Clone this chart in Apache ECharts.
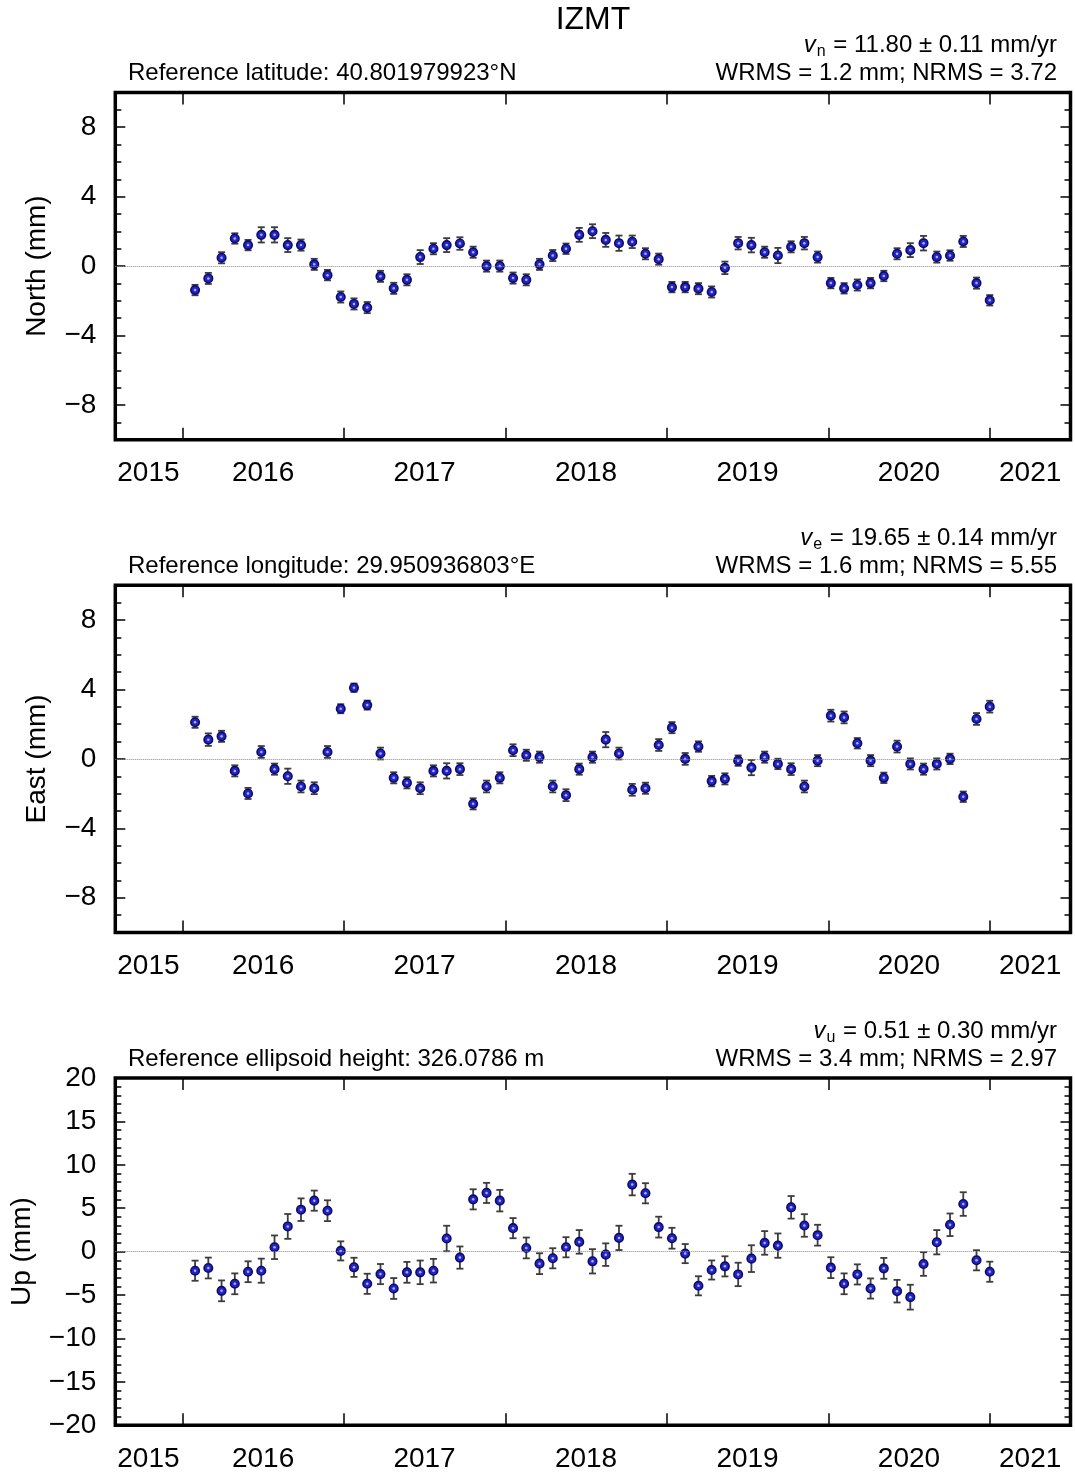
<!DOCTYPE html>
<html>
<head>
<meta charset="utf-8">
<title>IZMT</title>
<script src="https://cdn.jsdelivr.net/npm/echarts/dist/echarts.min.js"></script>
<style>
  html, body { margin: 0; padding: 0; background: #fff; }
  #chart { width: 1075px; height: 1477px; }
</style>
</head>
<body>
<div id="chart"></div>
<script>
// Station IZMT: monthly (30-day) position residuals, North / East / Up, in mm.

// Observation epochs, decimal years
const EPOCHS = [
  2016.079, 2016.161, 2016.243, 2016.325, 2016.407, 2016.489, 2016.571, 2016.653, 2016.735, 2016.817,
  2016.899, 2016.981, 2017.063, 2017.145, 2017.227, 2017.309, 2017.391, 2017.473, 2017.555, 2017.637,
  2017.719, 2017.801, 2017.884, 2017.966, 2018.048, 2018.130, 2018.212, 2018.294, 2018.376, 2018.458,
  2018.540, 2018.622, 2018.704, 2018.786, 2018.868, 2018.950, 2019.032, 2019.114, 2019.196, 2019.278,
  2019.360, 2019.442, 2019.524, 2019.606, 2019.688, 2019.770, 2019.852, 2019.934, 2020.016, 2020.098,
  2020.180, 2020.262, 2020.344, 2020.426, 2020.508, 2020.590, 2020.672, 2020.754, 2020.836, 2020.918,
  2021.000
];

// North residuals (mm) and 1-sigma
const NORTH = [
  -1.38, -0.71, 0.48, 1.59, 1.21, 1.80, 1.80, 1.21, 1.21, 0.10,
  -0.52, -1.78, -2.18, -2.39, -0.59, -1.28, -0.79, 0.52, 1.00, 1.21,
  1.30, 0.80, 0.00, 0.00, -0.69, -0.79, 0.10, 0.61, 1.00, 1.80,
  2.01, 1.51, 1.32, 1.40, 0.71, 0.40, -1.21, -1.21, -1.30, -1.49,
  -0.10, 1.32, 1.21, 0.80, 0.61, 1.11, 1.32, 0.52, -0.98, -1.28,
  -1.09, -0.98, -0.57, 0.71, 0.92, 1.32, 0.52, 0.61, 1.42, -0.98,
  -1.97
];
const NORTH_SIGMA = [
  0.30, 0.32, 0.32, 0.30, 0.30, 0.44, 0.44, 0.40, 0.32, 0.32,
  0.30, 0.32, 0.32, 0.32, 0.32, 0.32, 0.32, 0.40, 0.32, 0.40,
  0.36, 0.32, 0.32, 0.32, 0.32, 0.32, 0.32, 0.32, 0.30, 0.40,
  0.40, 0.40, 0.44, 0.36, 0.32, 0.32, 0.30, 0.30, 0.32, 0.32,
  0.36, 0.36, 0.42, 0.32, 0.44, 0.32, 0.36, 0.32, 0.30, 0.30,
  0.32, 0.30, 0.30, 0.32, 0.40, 0.42, 0.32, 0.30, 0.32, 0.32,
  0.30
];

// East residuals (mm) and 1-sigma
const EAST = [
  2.11, 1.11, 1.30, -0.69, -1.99, 0.40, -0.59, -1.00, -1.59, -1.69,
  0.40, 2.89, 4.10, 3.10, 0.31, -1.09, -1.38, -1.69, -0.69, -0.69,
  -0.59, -2.59, -1.59, -1.09, 0.50, 0.21, 0.10, -1.59, -2.09, -0.59,
  0.10, 1.11, 0.31, -1.78, -1.69, 0.80, 1.80, 0.00, 0.71, -1.28,
  -1.15, -0.10, -0.50, 0.10, -0.29, -0.59, -1.59, -0.10, 2.49, 2.39,
  0.90, -0.10, -1.09, 0.71, -0.29, -0.59, -0.29, 0.00, -2.18, 2.30,
  3.01
];
const EAST_SIGMA = [
  0.32, 0.36, 0.32, 0.32, 0.32, 0.34, 0.32, 0.44, 0.34, 0.34,
  0.34, 0.26, 0.24, 0.26, 0.34, 0.32, 0.32, 0.34, 0.32, 0.44,
  0.34, 0.32, 0.34, 0.32, 0.34, 0.32, 0.32, 0.34, 0.34, 0.32,
  0.32, 0.44, 0.34, 0.34, 0.32, 0.34, 0.32, 0.34, 0.30, 0.30,
  0.32, 0.30, 0.44, 0.32, 0.30, 0.34, 0.34, 0.32, 0.34, 0.34,
  0.30, 0.32, 0.30, 0.34, 0.32, 0.32, 0.32, 0.30, 0.30, 0.34,
  0.34
];

// Up residuals (mm) and 1-sigma
const UP = [
  -2.20, -1.89, -4.52, -3.71, -2.32, -2.20, 0.50, 2.90, 4.83, 5.87,
  4.71, 0.08, -1.81, -3.71, -2.59, -4.25, -2.39, -2.39, -2.20, 1.51,
  -0.69, 6.02, 6.76, 5.87, 2.70, 0.42, -1.39, -0.77, 0.50, 1.12,
  -1.12, -0.35, 1.58, 7.72, 6.72, 2.82, 1.54, -0.23, -3.94, -2.12,
  -1.70, -2.63, -0.81, 1.00, 0.69, 5.10, 3.01, 1.89, -1.85, -3.71,
  -2.63, -4.25, -1.93, -4.56, -5.25, -1.43, 1.08, 3.09, 5.48, -1.00,
  -2.32
];
const UP_SIGMA = [
  1.16, 1.20, 1.20, 1.20, 1.20, 1.39, 1.36, 1.43, 1.30, 1.16,
  1.20, 1.10, 1.10, 1.16, 1.16, 1.20, 1.20, 1.36, 1.36, 1.47,
  1.28, 1.16, 1.16, 1.24, 1.16, 1.20, 1.20, 1.16, 1.16, 1.36,
  1.40, 1.30, 1.40, 1.24, 1.16, 1.20, 1.20, 1.10, 1.10, 1.10,
  1.16, 1.35, 1.54, 1.36, 1.40, 1.30, 1.30, 1.20, 1.20, 1.20,
  1.16, 1.16, 1.20, 1.30, 1.43, 1.36, 1.40, 1.30, 1.36, 1.16,
  1.16
];

// Time axis: ticks at year boundaries, year names centred in each year span
const X_MIN = 2015.585;
const X_MAX = 2021.5;
const YEAR_TICKS = [2016, 2017, 2018, 2019, 2020, 2021];
const YEAR_LABEL_POS = [2015.79, 2016.5, 2017.5, 2018.5, 2019.5, 2020.5, 2021.25];

// Vertical axes
const NE_RANGE = [-10, 10];
const NE_LABELS = [-8, -4, 0, 4, 8];
const UP_RANGE = [-20, 20];
const UP_LABELS = [-20, -15, -10, -5, 0, 5, 10, 15, 20];

// Panel annotations
const TITLE = 'IZMT';
const PANEL_TEXT = [
  { comp: 'n', rate: ' = 11.80 \u00b1 0.11 mm/yr', ref: 'Reference latitude: 40.801979923\u00b0N',   fit: 'WRMS = 1.2 mm; NRMS = 3.72', name: 'North (mm)' },
  { comp: 'e', rate: ' = 19.65 \u00b1 0.14 mm/yr', ref: 'Reference longitude: 29.950936803\u00b0E',  fit: 'WRMS = 1.6 mm; NRMS = 5.55', name: 'East (mm)' },
  { comp: 'u', rate: ' = 0.51 \u00b1 0.30 mm/yr',  ref: 'Reference ellipsoid height: 326.0786 m',    fit: 'WRMS = 3.4 mm; NRMS = 2.97', name: 'Up (mm)' }
];

const FONT = '"Liberation Sans", Arial, Helvetica, sans-serif';
const GRID_LEFT = 115.3;
const GRID_RIGHT = 4.5;
const GRID_H = 347.2;
const GRID_TOPS = [92.5, 585.3, 1078];

function integersBetween(a, b) {
  const out = [];
  for (let v = a; v <= b; v++) out.push(v);
  return out;
}
const minusFmt = v => (v < 0 ? '\u2212' + Math.abs(v) : String(v));

const grids = [], xAxes = [], yAxes = [], series = [], graphics = [];

const panels = [
  { values: NORTH, sigma: NORTH_SIGMA, range: NE_RANGE, labels: NE_LABELS, nameGap: 64 },
  { values: EAST,  sigma: EAST_SIGMA,  range: NE_RANGE, labels: NE_LABELS, nameGap: 64 },
  { values: UP,    sigma: UP_SIGMA,    range: UP_RANGE, labels: UP_LABELS, nameGap: 79 }
];

const tickLine = { color: '#000', width: 1.5 };

panels.forEach((p, i) => {
  grids.push({
    left: GRID_LEFT, right: GRID_RIGHT, top: GRID_TOPS[i], height: GRID_H,
    show: true, borderColor: '#000', borderWidth: 3.5, backgroundColor: 'transparent',
    containLabel: false
  });

  const xBase = {
    type: 'value', gridIndex: i, min: X_MIN, max: X_MAX,
    axisLine: { show: false, onZero: false }, splitLine: { show: false },
    axisTick: { show: true, inside: true, length: 12, customValues: YEAR_TICKS, lineStyle: tickLine }
  };
  const xBottom = xAxes.length;
  xAxes.push(Object.assign({}, xBase, {
    position: 'bottom',
    axisLabel: {
      show: true, customValues: YEAR_LABEL_POS, margin: 20,
      fontSize: 28, fontFamily: FONT, color: '#000',
      formatter: v => String(Math.floor(v))
    }
  }));
  xAxes.push(Object.assign({}, xBase, { position: 'top', axisLabel: { show: false } }));

  const minor = integersBetween(p.range[0], p.range[1]);
  const yBase = {
    type: 'value', gridIndex: i, min: p.range[0], max: p.range[1],
    axisLine: { show: false, onZero: false }, splitLine: { show: false }
  };
  const yMain = yAxes.length;
  yAxes.push(Object.assign({}, yBase, {
    position: 'left',
    name: PANEL_TEXT[i].name, nameLocation: 'middle', nameGap: p.nameGap,
    nameTextStyle: { fontSize: 28, fontFamily: FONT, color: '#000' },
    axisTick: { show: true, inside: true, length: 10, customValues: p.labels, lineStyle: tickLine },
    axisLabel: {
      show: true, customValues: p.labels, margin: 19,
      fontSize: 28, fontFamily: FONT, color: '#000', formatter: minusFmt
    }
  }));
  yAxes.push(Object.assign({}, yBase, {
    position: 'left', axisLabel: { show: false },
    axisTick: { show: true, inside: true, length: 6, customValues: minor, lineStyle: tickLine }
  }));
  yAxes.push(Object.assign({}, yBase, {
    position: 'right', axisLabel: { show: false },
    axisTick: { show: true, inside: true, length: 10, customValues: p.labels, lineStyle: tickLine }
  }));
  yAxes.push(Object.assign({}, yBase, {
    position: 'right', axisLabel: { show: false },
    axisTick: { show: true, inside: true, length: 6, customValues: minor, lineStyle: tickLine }
  }));

  const pts = EPOCHS.map((t, k) => [t, p.values[k], p.sigma[k]]);

  // error bars with caps, plus the dotted zero reference line
  series.push({
    type: 'custom', xAxisIndex: xBottom, yAxisIndex: yMain, z: 2,
    data: pts, encode: { x: 0, y: 1 }, silent: true,
    renderItem: (params, api) => {
      const x = api.value(0), y = api.value(1), s = api.value(2);
      const top = api.coord([x, y + s]);
      const bot = api.coord([x, y - s]);
      const cw = 3.5;
      const st = { stroke: '#3c3c3c', lineWidth: 1.8 };
      return {
        type: 'group',
        children: [
          { type: 'line', shape: { x1: top[0], y1: top[1], x2: bot[0], y2: bot[1] }, style: st },
          { type: 'line', shape: { x1: top[0] - cw, y1: top[1], x2: top[0] + cw, y2: top[1] }, style: st },
          { type: 'line', shape: { x1: bot[0] - cw, y1: bot[1], x2: bot[0] + cw, y2: bot[1] }, style: st }
        ]
      };
    },
    markLine: {
      silent: true, symbol: ['none', 'none'], label: { show: false },
      lineStyle: { type: 'dotted', color: '#8a8a8a', width: 1 },
      data: [{ yAxis: 0 }]
    }
  });

  // position markers
  series.push({
    type: 'scatter', xAxisIndex: xBottom, yAxisIndex: yMain, z: 3,
    data: pts.map(d => [d[0], d[1]]),
    symbol: 'circle', symbolSize: 8.5,
    itemStyle: { color: '#2424c8', borderColor: '#0c0c66', borderWidth: 1.6, opacity: 1 }
  });
  series.push({
    type: 'scatter', xAxisIndex: xBottom, yAxisIndex: yMain, z: 4, silent: true,
    data: pts.map(d => [d[0], d[1]]),
    symbol: 'circle', symbolSize: 2.5,
    itemStyle: { color: '#a9b6ff', opacity: 1 }
  });

  // annotations above each panel
  const top = GRID_TOPS[i];
  graphics.push({
    type: 'text', silent: true,
    style: {
      x: 1057, y: top - 47,
      text: '{v|v}{s|' + PANEL_TEXT[i].comp + '}{t|' + PANEL_TEXT[i].rate + '}',
      align: 'right', textAlign: 'right', verticalAlign: 'middle', textVerticalAlign: 'middle',
      fill: '#000',
      rich: {
        v: { fontSize: 24, fontStyle: 'italic', fontFamily: FONT, color: '#000' },
        s: { fontSize: 16, fontFamily: FONT, color: '#000', padding: [13, 1, 0, 1] },
        t: { fontSize: 24, fontFamily: FONT, color: '#000' }
      }
    }
  });
  graphics.push({
    type: 'text', silent: true,
    style: {
      x: 128, y: top - 19, text: PANEL_TEXT[i].ref,
      align: 'left', textAlign: 'left', verticalAlign: 'middle', textVerticalAlign: 'middle',
      font: '24px ' + FONT, fill: '#000'
    }
  });
  graphics.push({
    type: 'text', silent: true,
    style: {
      x: 1057, y: top - 19, text: PANEL_TEXT[i].fit,
      align: 'right', textAlign: 'right', verticalAlign: 'middle', textVerticalAlign: 'middle',
      font: '24px ' + FONT, fill: '#000'
    }
  });
});

graphics.push({
  type: 'text', silent: true,
  style: {
    x: 593, y: 20, text: TITLE,
    align: 'center', textAlign: 'center', verticalAlign: 'middle', textVerticalAlign: 'middle',
    font: '32px ' + FONT, fill: '#000'
  }
});

const chart = echarts.init(document.getElementById('chart'), null, { renderer: 'canvas' });
chart.setOption({
  animation: false,
  backgroundColor: '#fff',
  grid: grids,
  xAxis: xAxes,
  yAxis: yAxes,
  series: series,
  graphic: graphics
});
</script>
</body>
</html>
